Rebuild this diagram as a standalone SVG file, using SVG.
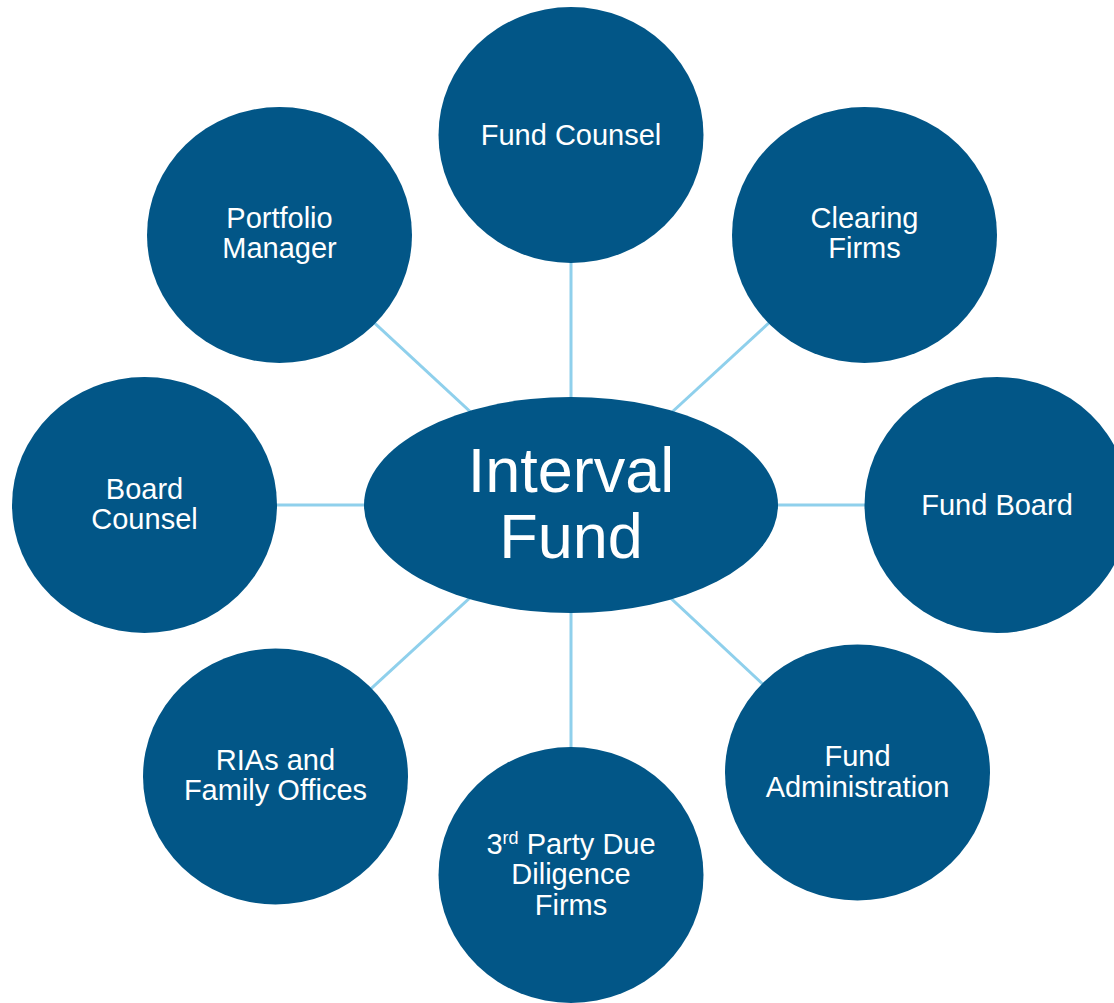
<svg xmlns="http://www.w3.org/2000/svg" width="1114" height="1003" viewBox="0 0 1114 1003">
  <style>
    .node { fill: #025687; }
    .label { fill: #ffffff; font-family: "Liberation Sans", Arial, sans-serif; font-size: 29px; text-anchor: middle; }
    .hub { fill: #ffffff; font-family: "Liberation Sans", Arial, sans-serif; font-size: 63px; text-anchor: middle; }
    .link { stroke: #8fd0ec; stroke-width: 3; fill: none; }
  </style>
  <rect width="1114" height="1003" fill="#ffffff"/>

  <!-- spokes from the hub to each satellite -->
  <g id="connectors">
    <line class="link" x1="571" y1="505" x2="571" y2="135"/>
    <line class="link" x1="571" y1="505" x2="864.5" y2="235"/>
    <line class="link" x1="571" y1="505" x2="997" y2="505"/>
    <line class="link" x1="571" y1="505" x2="857.5" y2="772.5"/>
    <line class="link" x1="571" y1="505" x2="571" y2="875"/>
    <line class="link" x1="571" y1="505" x2="275.5" y2="776.5"/>
    <line class="link" x1="571" y1="505" x2="144.5" y2="505"/>
    <line class="link" x1="571" y1="505" x2="279.5" y2="235"/>
  </g>

  <g id="fund-counsel">
    <ellipse class="node" cx="571" cy="135" rx="132.5" ry="128"/>
    <text class="label" x="571" y="145">Fund Counsel</text>
  </g>

  <g id="clearing-firms">
    <ellipse class="node" cx="864.5" cy="235" rx="132.5" ry="128"/>
    <text class="label" x="864.5" y="228">Clearing</text>
    <text class="label" x="864.5" y="258">Firms</text>
  </g>

  <g id="fund-board">
    <ellipse class="node" cx="997" cy="505" rx="132.5" ry="128"/>
    <text class="label" x="997" y="515">Fund Board</text>
  </g>

  <g id="fund-administration">
    <ellipse class="node" cx="857.5" cy="772.5" rx="132.5" ry="128"/>
    <text class="label" x="857.5" y="766">Fund</text>
    <text class="label" x="857.5" y="797">Administration</text>
  </g>

  <g id="due-diligence-firms">
    <ellipse class="node" cx="571" cy="875" rx="132.5" ry="128"/>
    <text class="label" x="571" y="854">3<tspan font-size="18" dy="-10">rd</tspan><tspan dy="10"> Party Due</tspan></text>
    <text class="label" x="571" y="884">Diligence</text>
    <text class="label" x="571" y="915">Firms</text>
  </g>

  <g id="rias-family-offices">
    <ellipse class="node" cx="275.5" cy="776.5" rx="132.5" ry="128"/>
    <text class="label" x="275.5" y="770">RIAs and</text>
    <text class="label" x="275.5" y="800">Family Offices</text>
  </g>

  <g id="board-counsel">
    <ellipse class="node" cx="144.5" cy="505" rx="132.5" ry="128"/>
    <text class="label" x="144.5" y="499">Board</text>
    <text class="label" x="144.5" y="529">Counsel</text>
  </g>

  <g id="portfolio-manager">
    <ellipse class="node" cx="279.5" cy="235" rx="132.5" ry="128"/>
    <text class="label" x="279.5" y="228">Portfolio</text>
    <text class="label" x="279.5" y="258">Manager</text>
  </g>

  <g id="interval-fund">
    <ellipse class="node" cx="571" cy="505" rx="207" ry="108"/>
    <text class="hub" x="571" y="492">Interval</text>
    <text class="hub" x="571" y="558">Fund</text>
  </g>
</svg>
